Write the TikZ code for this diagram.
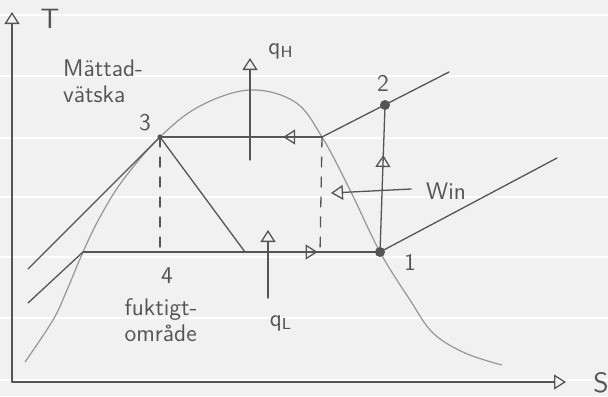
\documentclass[tikz,border=0pt]{standalone}
\usetikzlibrary{arrows.meta, decorations.markings}

\definecolor{ink}{HTML}{555555}
\definecolor{dome}{HTML}{969696}
\definecolor{paper}{HTML}{F1F1F1}

\tikzset{
  pen/.style={draw=ink, line width=0.65pt, line cap=round},
  opentip/.style={-{Triangle[open, length=6pt, width=7.5pt]}},
  midtip/.style={postaction={decorate}, decoration={markings,
    mark=at position #1 with {\arrow{Triangle[open, length=6pt, width=7.5pt]}}}},
  hand/.style={text=ink, font=\sffamily\fontsize{12}{13}\selectfont, align=left},
  dot/.style={fill=ink}
}

\begin{document}
\begin{tikzpicture}[x=0.5pt, y=-0.5pt]
  % paper
  \fill[paper] (0, 0) rectangle (608, 396);
  \useasboundingbox (0, 0) rectangle (608, 396);
  \foreach \y in {15, 76, 138, 197, 257, 318, 380}
    \draw[white, line width=1pt] (0, \y) -- (608, \y);

  \coordinate (O) at (12, 382);
  \coordinate (Tend) at (12, 12);
  \coordinate (Send) at (566, 382);
  \coordinate (P1) at (380, 252);
  \coordinate (P2) at (385, 105);
  \coordinate (P3) at (160, 137);
  \coordinate (P4) at (160, 252);
  \coordinate (G) at (322, 137);
  \coordinate (Gb) at (320, 252);
  \coordinate (F) at (83, 252);
  \coordinate (X) at (245, 252);
  \coordinate (E1) at (557, 158);
  \coordinate (E2) at (449, 72);
  \coordinate (E3) at (28, 269);
  \coordinate (E4) at (28, 303);
  \coordinate (qHa) at (250, 160);
  \coordinate (qHb) at (250, 58);
  \coordinate (qLa) at (268, 298);
  \coordinate (qLb) at (268, 230);
  \coordinate (Wa) at (331, 193);

  % saturation dome
  \draw[dome, line width=0.6pt] plot[smooth, tension=0.6] coordinates {
    (25, 362) (53, 320) (67, 290) (83, 252) (100, 217) (123, 180)
    (160, 137) (200, 106) (250, 90) (295, 102) (322, 137) (350, 190)
    (380, 252) (410, 300) (433, 333) (465, 353) (502, 365)};

  % axes
  \draw[pen, opentip] (O) -- (Tend);
  \draw[pen, opentip] (O) -- (Send);
  \node[hand, font=\sffamily\fontsize{14}{15}\selectfont] (T) at (50, 19) {T};
  \node[hand, font=\sffamily\fontsize{14}{15}\selectfont] (S) at (601, 383) {S};

  % isobars
  \draw[pen] (P3) -- (E3);
  \draw[pen] (F) -- (E4);
  \draw[pen] (G) -- (E2);
  \draw[pen] (P1) -- (E1);

  % cycle
  \draw[pen, midtip=0.24] (G) -- (P3);
  \draw[pen] (P3) -- (X);
  \draw[pen, midtip=0.79] (F) -- (P1);
  \draw[pen, midtip=0.66] (P1) -- (P2);
  \draw[pen, dash pattern=on 5pt off 5pt] (P3) -- (P4);
  \draw[pen, dash pattern=on 5pt off 5pt] (G) -- (Gb);
  \fill[dot] (P1) circle (2.5pt);
  \fill[dot] (P2) circle (2.5pt);
  \fill[dot] (P3) circle (1.3pt);

  % heat and work
  \draw[pen, opentip] (qHa) -- (qHb);
  \draw[pen, opentip] (qLa) -- (qLb);
  \node[hand] (qH) at (281, 51) {$\mathsf{q}_{\mathsf{H}}$};
  \node[hand] (qL) at (281, 323) {$\mathsf{q}_{\mathsf{L}}$};
  \node[hand] (Win) at (446, 191) {Win};
  \draw[pen, opentip] (Win.west) ++(-4pt, 1pt) coordinate (Wb) (Wb) -- (Wa);

  % labels
  \node[hand] (n1) at (410, 262) {1};
  \node[hand] (n2) at (383, 83) {2};
  \node[hand] (n3) at (145, 123) {3};
  \node[hand] (n4) at (167, 276) {4};
  \node[hand] (liq) at (103, 81) {Mättad-\\vätska};
  \node[hand] (wet) at (161, 320) {fuktigt-\\område};
\end{tikzpicture}
\end{document}
